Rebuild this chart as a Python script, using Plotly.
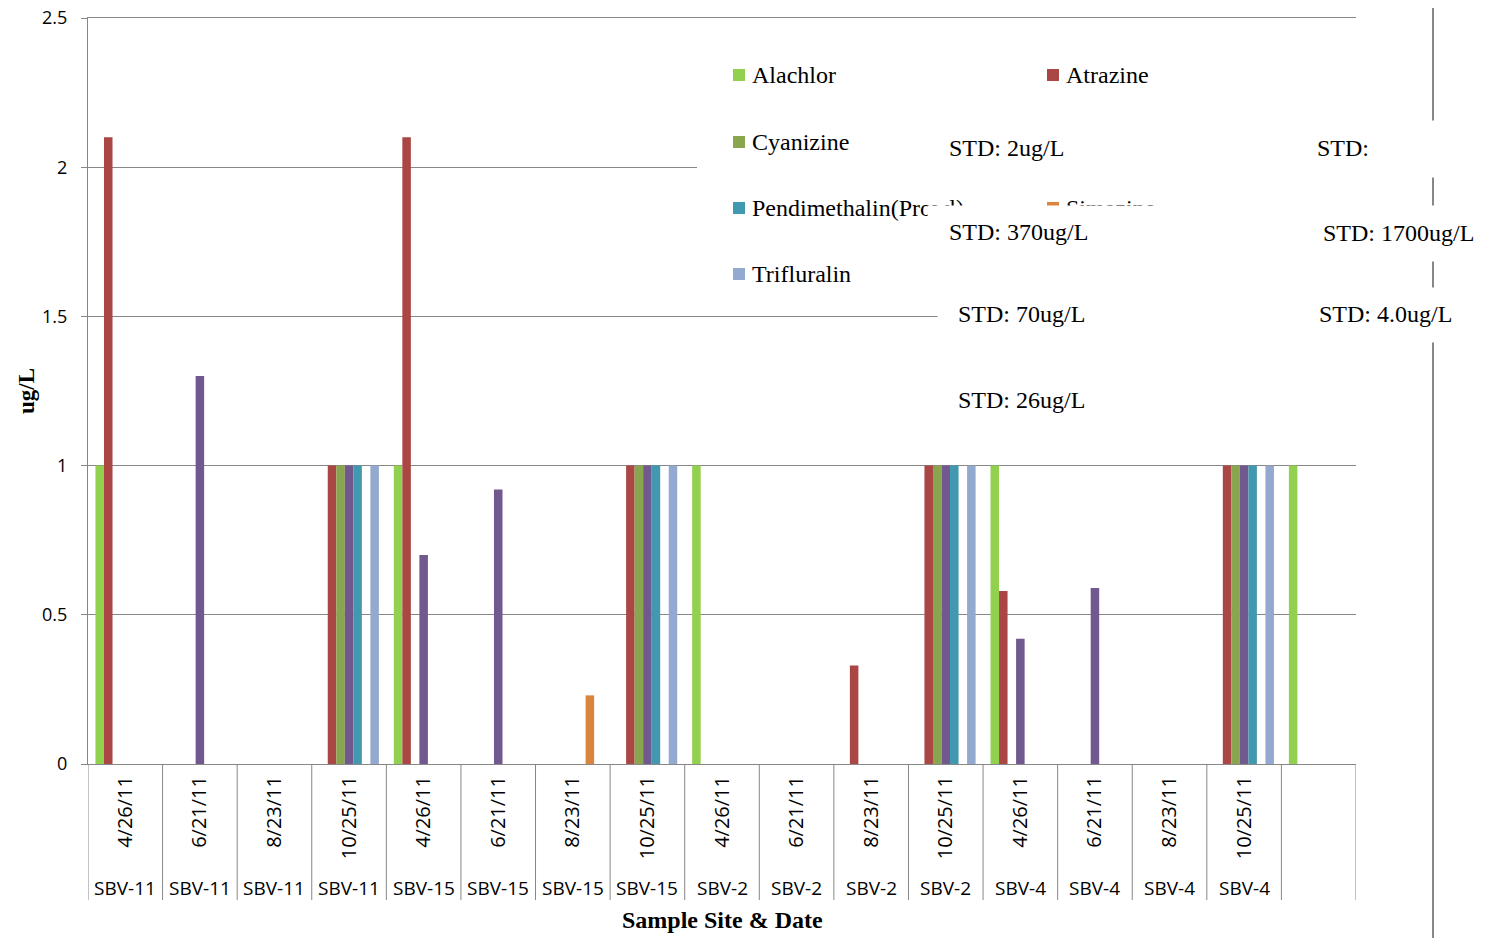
import plotly.graph_objects as go

# ---------------- data ----------------
sites = ["SBV-11"] * 4 + ["SBV-15"] * 4 + ["SBV-2"] * 4 + ["SBV-4"] * 4 + [""]
dates = ["4/26/11", "6/21/11", "8/23/11", "10/25/11"] * 4 + [""]

series_names = ["Alachlor", "Atrazine", "Cyanizine", "Metolachlor",
                "Pendimethalin(Prowl)", "Simazine", "Trifluralin"]
series_colors = ["#92D050", "#AA4643", "#89A54E", "#71588F",
                 "#4198AF", "#DB843D", "#93A9CF"]

N = None
alachlor = [1, N, N, N, 1, N, N, N, 1, N, N, N, 1, N, N, N, 1]
atrazine = [2.1, N, N, 1, 2.1, N, N, 1, N, N, 0.33, 1, 0.58, N, N, 1, N]
cyanizine = [N, N, N, 1, N, N, N, 1, N, N, N, 1, N, N, N, 1, N]
metolachlor = [N, 1.3, N, 1, 0.7, 0.92, N, 1, N, N, N, 1, 0.42, 0.59, N, 1, N]
pendimethalin = [N, N, N, 1, N, N, N, 1, N, N, N, 1, N, N, N, 1, N]
simazine = [N, N, N, N, N, N, 0.23, N, N, N, N, N, N, N, N, N, N]
trifluralin = [N, N, N, 1, N, N, N, 1, N, N, N, 1, N, N, N, 1, N]
series_values = [alachlor, atrazine, cyanizine, metolachlor,
                 pendimethalin, simazine, trifluralin]

std_texts = ["STD: 2ug/L", "STD:", "STD: 370ug/L", "STD: 1700ug/L",
             "STD: 70ug/L", "STD: 4.0ug/L", "STD: 26ug/L"]

# ---------------- layout helpers ----------------
W, H = 1496, 938
OFF = 8  # page body margin: shift everything so it lands where intended
L, R, T, B = 88, 1356, 18, 764  # plot area in screen pixels


def px(x):
    return (x - L) / (R - L)


def py(y):
    return (B - y) / (B - T)


GRID = "#878787"
SANS = "Open Sans"
SERIF = "Liberation Serif"
SERIF_SIZE = 24

xs = list(range(len(dates)))

fig = go.Figure()
for name, color, vals in zip(series_names, series_colors, series_values):
    fig.add_trace(go.Bar(x=xs, y=vals, name=name, marker_color=color,
                         marker_line_width=0, showlegend=False))

shapes = []
annotations = []

# category dividers under the axis
for i in range(len(dates) + 1):
    shapes.append(dict(type="line", xref="x", yref="paper",
                       x0=i - 0.5, x1=i - 0.5, y0=0, y1=py(900),
                       line=dict(color=GRID, width=1)))

# outer vertical line at right
shapes.append(dict(type="line", xref="paper", yref="paper",
                   x0=px(1433), x1=px(1433), y0=py(-10), y1=py(950),
                   line=dict(color=GRID, width=2)))

# legend background (white, hides gridline behind legend)
shapes.append(dict(type="rect", xref="paper", yref="paper", layer="above",
                   x0=px(697), x1=px(1310), y0=py(300), y1=py(40),
                   fillcolor="white", line=dict(width=0)))

# site labels (second axis level)
for i, s in enumerate(sites):
    annotations.append(dict(x=i, y=py(888), xref="x", yref="paper",
                            xanchor="center", yanchor="middle",
                            text=s, showarrow=False,
                            font=dict(family=SANS, size=19, color="#000")))

# axis titles
annotations.append(dict(x=px(722), y=py(920), xref="paper", yref="paper",
                        xanchor="center", yanchor="middle",
                        text="<b>Sample Site &amp; Date</b>", showarrow=False,
                        font=dict(family=SERIF, size=24, color="#000")))
annotations.append(dict(x=px(26), y=py(391), xref="paper", yref="paper",
                        xanchor="center", yanchor="middle",
                        text="<b>ug/L</b>", showarrow=False, textangle=-90,
                        font=dict(family=SERIF, size=23, color="#000")))

# manual legend (two columns)
leg_rows = [75, 142, 208, 274]
leg_cols = [733, 1047]
for k, (name, color) in enumerate(zip(series_names, series_colors)):
    if k == 6:
        r, c = 3, 0
    else:
        r, c = k // 2, k % 2
    x0 = leg_cols[c]
    yc = leg_rows[r]
    shapes.append(dict(type="rect", xref="paper", yref="paper", layer="above",
                       x0=px(x0), x1=px(x0 + 12), y0=py(yc + 6), y1=py(yc - 6),
                       fillcolor=color, line=dict(width=0)))
    annotations.append(dict(x=px(x0 + 17), y=py(yc), xref="paper", yref="paper",
                            xanchor="left", yanchor="middle", text=name,
                            showarrow=False,
                            font=dict(family=SERIF, size=SERIF_SIZE, color="#000")))

# STD text boxes with white fill (drawn on top of legend)
std_boxes = [
    (940, 121, 345, 55),
    (1308, 120, 188, 56),
    (927, 205, 363, 54),
    (1314, 205, 182, 55),
    (937, 288, 363, 52),
    (1300, 287, 196, 54),
    (949, 375, 250, 50),
]
std_text_x = [947, 1315, 947, 1321, 956, 1317, 956]
for (bx, by, bw, bh), tx, txt in zip(std_boxes, std_text_x, std_texts):
    annotations.append(dict(x=px(bx), y=py(by), xref="paper", yref="paper",
                            xanchor="left", yanchor="top", text=" ",
                            width=bw, height=bh, bgcolor="white",
                            showarrow=False, borderpad=0))
    annotations.append(dict(x=px(tx), y=py(by + bh / 2), xref="paper",
                            yref="paper", xanchor="left", yanchor="middle",
                            text=txt, showarrow=False,
                            font=dict(family=SERIF, size=SERIF_SIZE, color="#000")))

fig.update_layout(
    width=W, height=H,
    margin=dict(l=L - OFF, r=W - R + OFF, t=T - OFF, b=H - B + OFF, pad=0),
    paper_bgcolor="white", plot_bgcolor="white",
    barmode="group", bargap=0.2, bargroupgap=0,
    showlegend=False,
    shapes=shapes, annotations=annotations,
    xaxis=dict(range=[-0.5, len(dates) - 0.5], tickmode="array",
               tickvals=xs, ticktext=dates, tickangle=-90,
               showgrid=False, zeroline=False, showline=True, mirror=True,
               linecolor=GRID, linewidth=1, ticks="",
               ticklabelstandoff=3, automargin=False,
               ticklabeloverflow="allow",
               tickfont=dict(family=SANS, size=20, color="#000"),
               fixedrange=True),
    yaxis=dict(range=[0, 2.5], tick0=0, dtick=0.5,
               showgrid=True, gridcolor=GRID, gridwidth=1,
               zeroline=False, showline=True, linecolor=GRID, linewidth=1,
               ticks="outside", ticklen=6, tickcolor=GRID,
               ticklabelstandoff=10, automargin=False,
               ticklabeloverflow="allow",
               tickfont=dict(family=SANS, size=18, color="#000"),
               fixedrange=True),
)

fig.write_html("out.html")
